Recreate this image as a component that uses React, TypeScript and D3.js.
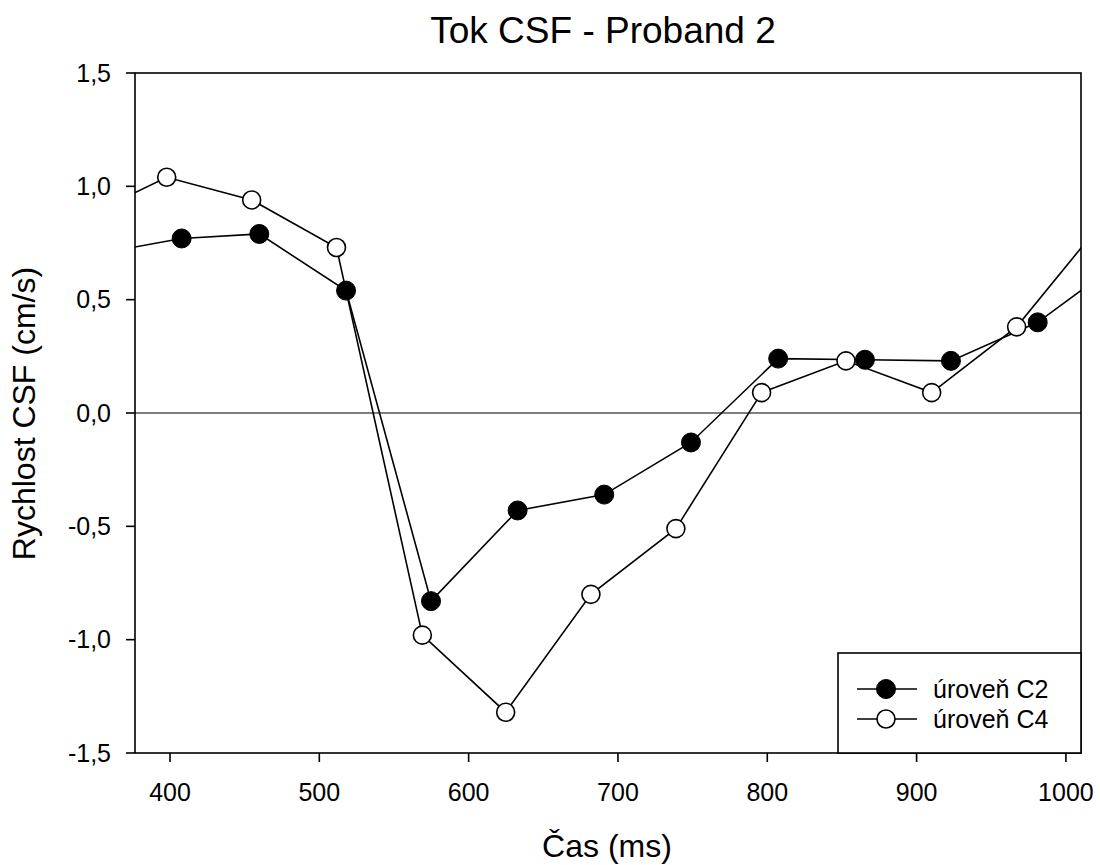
import React from "react";
import * as d3 from "d3";

const timesC2 = [350, 407.8, 459.8, 517.9, 574.8, 632.8, 690.8, 748.9, 807.3, 865.4, 923.0, 981.1, 1039];
const valuesC2 = [0.70, 0.77, 0.79, 0.54, -0.83, -0.43, -0.36, -0.13, 0.24, 0.235, 0.23, 0.40, 0.68];
const timesC4 = [341, 397.8, 454.7, 511.5, 569.0, 624.8, 681.9, 738.8, 796.2, 852.7, 910.1, 967.0, 1024];
const valuesC4 = [0.86, 1.04, 0.94, 0.73, -0.98, -1.32, -0.80, -0.51, 0.09, 0.23, 0.09, 0.38, 0.84];

const xTicks = [400, 500, 600, 700, 800, 900, 1000];
const yTicks = [-1.5, -1.0, -0.5, 0, 0.5, 1.0, 1.5];
const seriesNames = ["úroveň C2", "úroveň C4"];

const title = "Tok CSF - Proband 2";
const xLabel = "Čas (ms)";
const yLabel = "Rychlost CSF (cm/s)";

const W = 1100;
const H = 865;
const M = { left: 135, right: 1081, top: 73, bottom: 753 };
const FONT = "'Liberation Sans', Arial, Helvetica, sans-serif";

export default function App() {
  const x = d3.scaleLinear().domain([376.56, 1010.1]).range([M.left, M.right]);
  const y = d3.scaleLinear().domain([-1.5, 1.5]).range([M.bottom, M.top]);
  const fmt = (v: number) => v.toFixed(1).replace(".", ",");

  const line = d3
    .line<[number, number]>()
    .x((d) => x(d[0]))
    .y((d) => y(d[1]));

  const c2: [number, number][] = timesC2.map((t, i) => [t, valuesC2[i]]);
  const c4: [number, number][] = timesC4.map((t, i) => [t, valuesC4[i]]);

  const inDomain = (t: number) => t >= x.domain()[0] && t <= x.domain()[1];

  const legendX = 838;
  const legendY = 653;
  const legendRows = [689, 719];

  return (
    <svg
      width={W}
      height={H}
      style={{ position: "absolute", left: 0, top: 0, background: "#fff" }}
      fontFamily={FONT}
    >
      <defs>
        <clipPath id="plotClip">
          <rect x={M.left} y={M.top} width={M.right - M.left} height={M.bottom - M.top} />
        </clipPath>
      </defs>
      <rect x={0} y={0} width={W} height={H} fill="#fff" />

      {/* title */}
      <text x={603} y={43} fontSize={37} textAnchor="middle" fill="#000">
        {title}
      </text>

      {/* zero line */}
      <line x1={M.left} x2={M.right} y1={y(0)} y2={y(0)} stroke="#000" strokeWidth={1.2} />

      {/* series lines */}
      <g clipPath="url(#plotClip)">
        <path d={line(c4) || ""} fill="none" stroke="#000" strokeWidth={1.6} />
        <path d={line(c2) || ""} fill="none" stroke="#000" strokeWidth={1.6} />
      </g>

      {/* markers */}
      <g>
        {c4.filter((d) => inDomain(d[0])).map((d, i) => (
          <circle key={"c4" + i} cx={x(d[0])} cy={y(d[1])} r={9} fill="#fff" stroke="#000" strokeWidth={1.6} />
        ))}
        {c2.filter((d) => inDomain(d[0])).map((d, i) => (
          <circle key={"c2" + i} cx={x(d[0])} cy={y(d[1])} r={9.5} fill="#000" stroke="#000" strokeWidth={1} />
        ))}
      </g>

      {/* frame */}
      <rect
        x={M.left}
        y={M.top}
        width={M.right - M.left}
        height={M.bottom - M.top}
        fill="none"
        stroke="#000"
        strokeWidth={1.6}
      />

      {/* y axis ticks */}
      {yTicks.map((t) => (
        <g key={"y" + t}>
          <line x1={M.left - 9} x2={M.left} y1={y(t)} y2={y(t)} stroke="#000" strokeWidth={1.6} />
          <text x={111} y={y(t)} dy="0.35em" fontSize={25} textAnchor="end" fill="#000">
            {fmt(t)}
          </text>
        </g>
      ))}

      {/* x axis ticks */}
      {xTicks.map((t) => (
        <g key={"x" + t}>
          <line x1={x(t)} x2={x(t)} y1={M.bottom} y2={M.bottom + 9} stroke="#000" strokeWidth={1.6} />
          <text x={x(t)} y={801} fontSize={25} textAnchor="middle" fill="#000">
            {t}
          </text>
        </g>
      ))}

      {/* axis labels */}
      <text x={607} y={857} fontSize={32} textAnchor="middle" fill="#000">
        {xLabel}
      </text>
      <text transform={`translate(35, ${413.5}) rotate(-90)`} fontSize={32} textAnchor="middle" fill="#000">
        {yLabel}
      </text>

      {/* legend */}
      <rect
        x={legendX}
        y={legendY}
        width={M.right - legendX}
        height={M.bottom - legendY}
        fill="#fff"
        stroke="#000"
        strokeWidth={1.6}
      />
      {seriesNames.map((name, i) => (
        <g key={name}>
          <line x1={857} x2={917} y1={legendRows[i]} y2={legendRows[i]} stroke="#000" strokeWidth={1.6} />
          <circle
            cx={886}
            cy={legendRows[i]}
            r={i === 0 ? 9.5 : 9}
            fill={i === 0 ? "#000" : "#fff"}
            stroke="#000"
            strokeWidth={i === 0 ? 1 : 1.6}
          />
          <text x={933} y={legendRows[i]} dy="0.35em" fontSize={25} fill="#000">
            {name}
          </text>
        </g>
      ))}
    </svg>
  );
}
